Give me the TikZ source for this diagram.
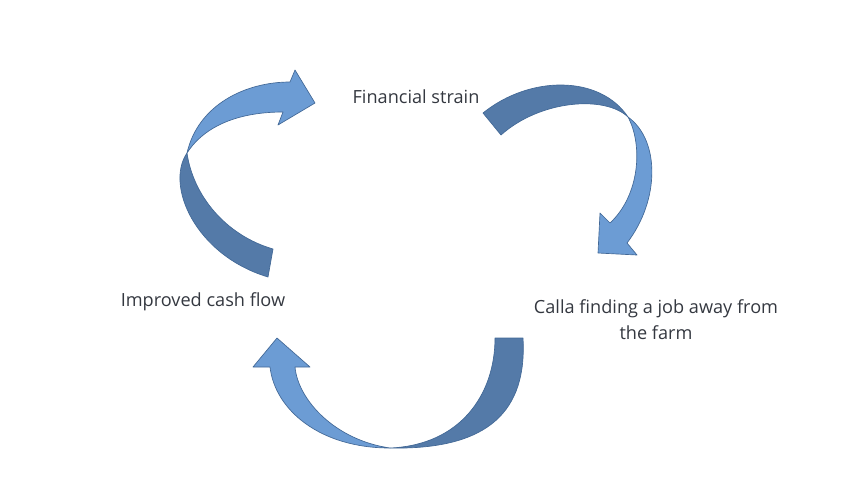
\documentclass[tikz,border=0pt]{standalone}
\usepackage{fontspec}
\setmainfont{Open Sans}
\definecolor{frontblue}{RGB}{108,156,212}
\definecolor{backblue}{RGB}{84,122,168}
\definecolor{edgeblue}{RGB}{66,104,150}
\definecolor{textgray}{RGB}{52,56,64}
\begin{document}
\begin{tikzpicture}[x=0.75pt,y=-0.75pt,
	front/.style={fill=frontblue,draw=edgeblue,line width=0.5pt,line join=round},
	back/.style={fill=backblue,draw=edgeblue,line width=0.5pt,line join=round},
	label/.style={text=textgray,font=\fontsize{13.6}{19.5}\selectfont,align=center,inner sep=0pt}]
	\useasboundingbox (0,0) rectangle (862,490);
	%texts
	\node[label] (fin) at (416,97) {Financial strain};
	\node[label] (calla) at (656,320) {Calla finding a job away from\\the farm};
	\node[label] (cash) at (203,302) {Improved cash flow};
	%arrow cash -> fin
	\draw[back] (187,153) .. controls (165,185) and (195,255) .. (268,277) -- (273,249)
		.. controls (225,235) and (193,195) .. (187,153) -- cycle;
	\draw[front] (187,153) .. controls (198,105) and (245,82) .. (290,82) -- (295,70) -- (315,103)
		-- (278,125) -- (283,112) .. controls (240,112) and (205,125) .. (187,153) -- cycle;
	%arrow fin -> calla
	\draw[back] (483,113) .. controls (530,75) and (600,75) .. (628,117)
		.. controls (605,95) and (540,100) .. (501,135) -- cycle;
	\draw[front] (628,117) .. controls (643,145) and (640,195) .. (610,223) -- (600,213) -- (598,253)
		-- (637,255) -- (627,243) .. controls (660,200) and (660,140) .. (628,117) -- cycle;
	%arrow calla -> cash
	\draw[back] (523,338) .. controls (527,410) and (490,450) .. (390,448)
		.. controls (460,445) and (495,395) .. (495,338) -- cycle;
	\draw[front] (390,448) .. controls (320,448) and (275,410) .. (270,367) -- (253,367) -- (277,338)
		-- (310,367) -- (295,367) .. controls (298,400) and (335,440) .. (390,448) -- cycle;
\end{tikzpicture}
\end{document}
